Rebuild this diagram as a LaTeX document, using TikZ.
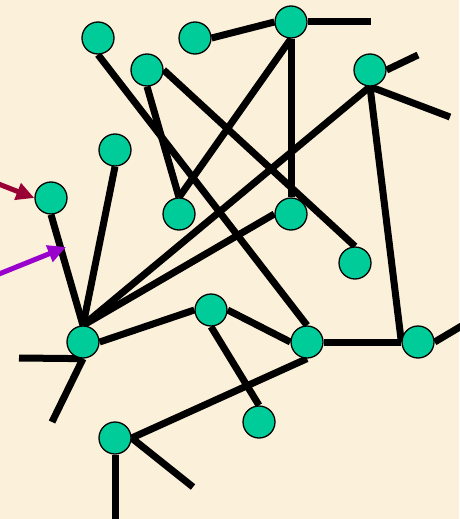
\documentclass[tikz,border=0pt]{standalone}
\usetikzlibrary{arrows.meta}
\definecolor{parch}{HTML}{FBF0D9}
\definecolor{nodeteal}{HTML}{00CC99}
\definecolor{arrowred}{HTML}{990033}
\definecolor{arrowviolet}{HTML}{9900CC}
\pgfdeclarelayer{edges}
\pgfdeclarelayer{paper}
\pgfsetlayers{paper,edges,main}
\begin{document}
\begin{tikzpicture}[x=1pt,y=-1pt,
  vertex/.style={circle,draw=black,line width=1.3pt,fill=nodeteal,minimum size=32pt,inner sep=0pt},
  link/.style={line width=7pt,black},
  pointer/.style={line width=5pt,-{Triangle[length=18pt,width=17pt]}}]
\begin{pgfonlayer}{paper}
  \fill[parch] (0,0) rectangle (459,519);
\end{pgfonlayer}
\useasboundingbox (0,0) rectangle (459,519);

% vertices
\node[vertex] (A) at (98,38) {};
\node[vertex] (B) at (195,38) {};
\node[vertex] (C) at (291,22) {};
\node[vertex] (D) at (147,70) {};
\node[vertex] (E) at (370,70) {};
\node[vertex] (F) at (115,150) {};
\node[vertex] (G) at (51,198) {};
\node[vertex] (H) at (179,214) {};
\node[vertex] (I) at (291,214) {};
\node[vertex] (J) at (355,263) {};
\node[vertex] (K) at (83,342) {};
\node[vertex] (L) at (211,310) {};
\node[vertex] (M) at (307,342) {};
\node[vertex] (N) at (418,342) {};
\node[vertex] (O) at (259,422) {};
\node[vertex] (P) at (115,438) {};

% loose ends of edges
\coordinate (c1) at (371,22);
\coordinate (e1) at (418,55);
\coordinate (e2) at (450,117);
\coordinate (n1) at (475,318);
\coordinate (k1) at (19,358);
\coordinate (k2) at (52,422);
\coordinate (p1) at (193,487);
\coordinate (p2) at (115,530);

% arrow tails and the second arrow's tip
\coordinate (r0) at (-4,183);
\coordinate (v0) at (-6,276);
\coordinate (v1) at (66,247);

\begin{pgfonlayer}{edges}
  \draw[link] (B.east) -- (C.west);
  \draw[link] (C.east) -- (c1);
  \draw[link] (C.south) -- (I.north);
  \draw[link] (C.south) -- (H.north);
  \draw[link] (D.south) -- (H.north);
  \draw[link] (D.east) -- (J.north);
  \draw[link] (A.south) -- (M.north);
  \draw[link] (E.east) -- (e1);
  \draw[link] (E.south) -- (e2);
  \draw[link] (E.south) -- (N.west);
  \draw[link] (E.south) -- (K.north);
  \draw[link] (I.west) -- (K.north);
  \draw[link] (F.south) -- (K.north);
  \draw[link] (G.south) -- (K.north);
  \draw[link] (K.east) -- (L.west);
  \draw[link] (K.south) -- (k1);
  \draw[link] (K.south) -- (k2);
  \draw[link] (L.east) -- (M.west);
  \draw[link] (L.south) -- (O.north);
  \draw[link] (M.east) -- (N.west);
  \draw[link] (N.east) -- (n1);
  \draw[link] (M.south) -- (P.east);
  \draw[link] (P.east) -- (p1);
  \draw[link] (P.south) -- (p2);
\end{pgfonlayer}

% arrows
\draw[pointer,arrowred] (r0) -- (G.west);
\draw[pointer,arrowviolet] (v0) -- (v1);
\end{tikzpicture}
\end{document}
